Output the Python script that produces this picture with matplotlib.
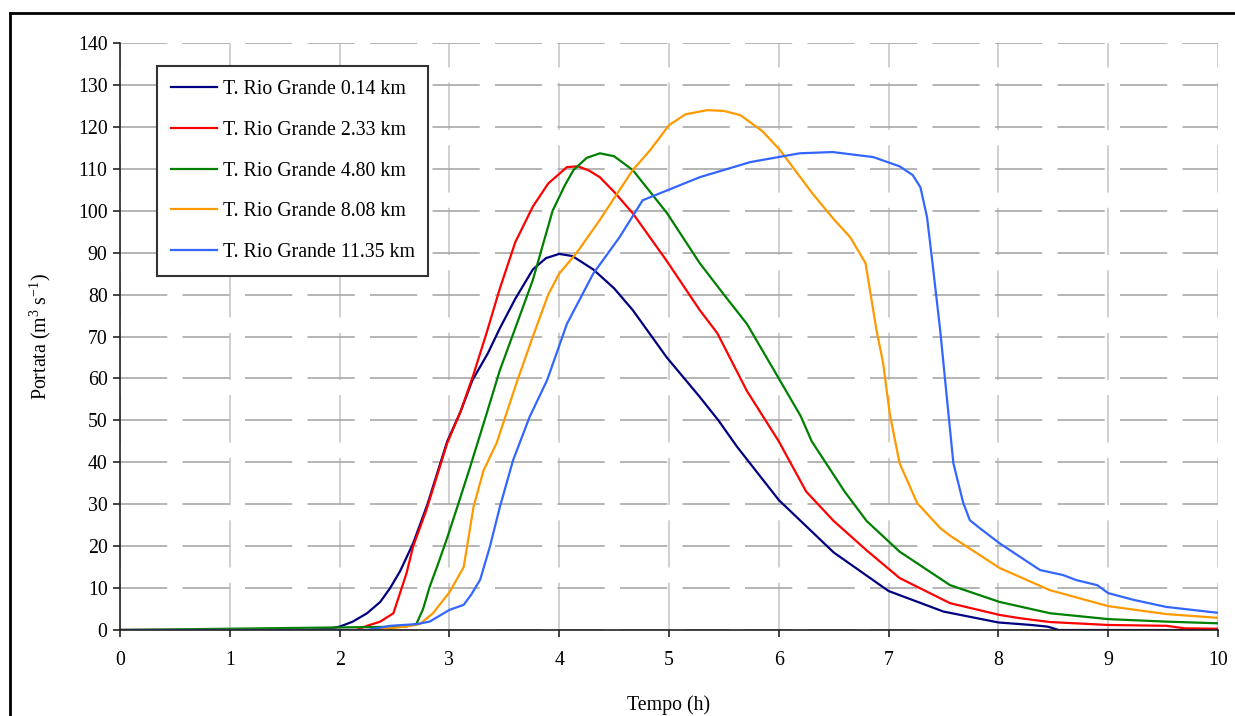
import matplotlib
matplotlib.use('Agg')
import matplotlib.pyplot as plt
from matplotlib.lines import Line2D

plt.rcParams['font.family'] = ['Liberation Serif', 'DejaVu Serif']
plt.rcParams['mathtext.fontset'] = 'custom'
plt.rcParams['mathtext.rm'] = 'Liberation Serif'
plt.rcParams['mathtext.it'] = 'Liberation Serif:italic'
plt.rcParams['lines.scale_dashes'] = False

# portata (m3/s) vs tempo (h) for the five sections
t1 = [0, 1.7, 1.9, 2.0, 2.12, 2.25, 2.37, 2.46, 2.55, 2.67, 2.8, 2.98, 3.1, 3.21, 3.35, 3.46,
      3.6, 3.76, 3.88, 4.0, 4.12, 4.31, 4.5, 4.67, 4.98, 5.28, 5.45, 5.62, 6.0, 6.5, 7.0,
      7.5, 8.0, 8.3, 8.45, 8.55, 10]
q1 = [0, 0, 0.3, 0.8, 2, 4, 6.7, 10, 14, 20.7, 30, 45, 52, 59.6, 66, 72,
      79, 86, 88.7, 89.7, 89.2, 86, 81.5, 76.3, 65, 55.6, 50, 43.7, 31, 18.5, 9.3,
      4.4, 1.8, 1.2, 0.8, 0, 0]

t2 = [0, 2.15, 2.25, 2.37, 2.49, 2.55, 2.61, 2.67, 2.79, 2.98, 3.1, 3.22, 3.34, 3.46, 3.6,
      3.76, 3.9, 4.07, 4.17, 4.27, 4.37, 4.5, 4.67, 4.98, 5.28, 5.44, 5.71, 6.0, 6.25,
      6.5, 6.8, 7.1, 7.56, 8.01, 8.2, 8.47, 9.0, 9.53, 9.7, 10]
q2 = [0, 0, 1, 2, 4, 8.8, 13.6, 20, 28.6, 44.6, 52, 61, 71, 81.5, 92.5,
      101, 106.5, 110.4, 110.6, 109.6, 108, 104.5, 99.4, 88, 76.3, 70.8, 57, 45, 33,
      26, 19, 12.4, 6.4, 3.6, 2.8, 1.9, 1.2, 1.0, 0.4, 0.3]

t3 = [0, 2.6, 2.7, 2.76, 2.82, 2.9, 2.98, 3.08, 3.19, 3.34, 3.46, 3.6, 3.76, 3.94, 4.05,
      4.13, 4.25, 4.37, 4.5, 4.67, 4.98, 5.28, 5.5, 5.71, 6.0, 6.2, 6.3, 6.4, 6.6, 6.8,
      7.1, 7.56, 8.01, 8.47, 9.0, 9.53, 10]
q3 = [0, 0.8, 1.5, 5, 10.3, 16, 22, 30, 39, 51.7, 62, 72, 83.5, 100, 106,
      109.7, 112.6, 113.7, 113, 109.7, 99.5, 87.5, 80, 73, 60, 51, 45, 41, 33, 26,
      18.7, 10.7, 6.7, 4, 2.6, 2, 1.6]

t4 = [0, 2.3, 2.6, 2.73, 2.85, 3.0, 3.13, 3.22, 3.31, 3.43, 3.52, 3.62, 3.76, 3.9, 4.0,
      4.16, 4.37, 4.5, 4.67, 4.83, 5.0, 5.15, 5.35, 5.5, 5.65, 5.85, 6.01, 6.31, 6.5,
      6.65, 6.79, 6.89, 6.95, 7.01, 7.1, 7.26, 7.47, 7.56, 8.01, 8.47, 9.0, 9.53, 10]
q4 = [0, 0, 0.8, 1.4, 4, 9, 15, 29.4, 38, 44.6, 51.7, 59.6, 70, 80, 85,
      90, 97.8, 103, 109.7, 114.5, 120.4, 123, 124, 123.8, 122.8, 119, 114.5, 104, 98,
      93.7, 87.5, 71.5, 63.7, 51.7, 39.8, 30.3, 24.3, 22.5, 14.8, 9.5, 5.7, 3.8, 2.9]

t5 = [0, 2.25, 2.46, 2.7, 2.82, 3.0, 3.13, 3.2, 3.28, 3.37, 3.46, 3.58, 3.73, 3.89, 4.07,
      4.31, 4.55, 4.76, 5.28, 5.74, 6.19, 6.49, 6.86, 7.1, 7.22, 7.29, 7.35, 7.4, 7.47,
      7.53, 7.59, 7.68, 7.74, 7.83, 8.01, 8.2, 8.38, 8.59, 8.71, 8.9, 9.0, 9.23, 9.53, 10]
q5 = [0, 0, 1, 1.4, 2, 4.8, 6, 8.5, 12, 20, 29.4, 40.5, 50.8, 59.6, 73,
      85, 93.7, 102.5, 108, 111.6, 113.7, 114, 112.8, 110.6, 108.5, 105.6, 98.5, 87.5, 71.5,
      55.6, 39.8, 30.3, 26.2, 24.3, 20.7, 17.4, 14.3, 13.1, 11.9, 10.7, 8.8, 7.2, 5.5, 4.1]

labels = ['T. Rio Grande 0.14 km', 'T. Rio Grande 2.33 km', 'T. Rio Grande 4.80 km',
          'T. Rio Grande 8.08 km', 'T. Rio Grande 11.35 km']
colors = ['#000080', '#ff0000', '#008000', '#ff9900', '#3366ff']

fs = 14.3

fig = plt.figure(figsize=(12.35, 7.16), dpi=100)
ax = fig.add_axes([0.0972, 0.1201, 0.889, 0.8198])

series = [(t1, q1), (t2, q2), (t3, q3), (t4, q4), (t5, q5)]
for (t, q), lab, c in zip(series, labels, colors):
    ax.plot(t, q, color=c, lw=1.6, label=lab)

ax.set_xlim(0, 10)
ax.set_ylim(0, 140)
ax.set_xticks(range(0, 11))
ax.set_yticks(range(0, 141, 10))

ax.xaxis.grid(True, color='#c8c8c8', lw=1.2, linestyle=(0, (34, 11)))
ax.yaxis.grid(True, color='#a8a8a8', lw=1.2, linestyle=(0, (34, 11)))
ax.set_axisbelow(True)

for s in ['top', 'right']:
    ax.spines[s].set_visible(False)
for s in ['left', 'bottom']:
    ax.spines[s].set_color('#222222')
    ax.spines[s].set_linewidth(1.2)
ax.tick_params(axis='both', direction='out', length=5, width=1.2, color='#222222',
               labelsize=fs)
ax.tick_params(axis='x', pad=10)
ax.tick_params(axis='y', pad=4)

ax.set_xlabel('Tempo (h)', fontsize=fs, labelpad=18)
ax.set_ylabel('Portata (m$^{3}$ s$^{-1}$)', fontsize=fs, labelpad=18)

leg = ax.legend(loc='upper left', bbox_to_anchor=(0.0337, 0.961), borderaxespad=0,
                fancybox=False, framealpha=1, edgecolor='#333333', fontsize=fs,
                handlelength=2.3, handletextpad=0.3, labelspacing=1.1,
                borderpad=0.7)
leg.get_frame().set_linewidth(1.5)

# page frame around the figure
fig.add_artist(Line2D([0.0081, 1.0], [0.9818, 0.9818], color='black', lw=2,
                      transform=fig.transFigure))
fig.add_artist(Line2D([0.0081, 0.0081], [0.0, 0.9818], color='black', lw=2,
                      transform=fig.transFigure))

fig.savefig('out.png', dpi=100)
